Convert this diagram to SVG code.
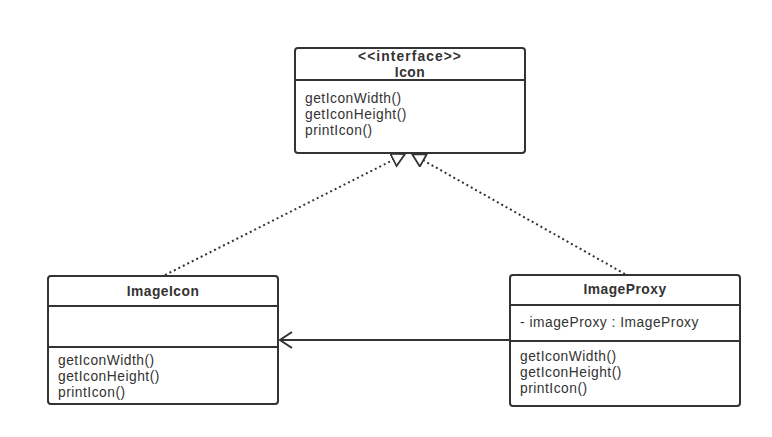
<svg xmlns="http://www.w3.org/2000/svg" width="772" height="437" viewBox="0 0 772 437">
<style>
.box{fill:#fff;stroke:#333;stroke-width:2}
.div{stroke:#333;stroke-width:2}
.t{font-family:"Liberation Sans",Arial,sans-serif;font-size:13.8px;letter-spacing:0.5px;fill:#333}
.b{font-weight:bold;text-anchor:middle}
.dot{stroke:#333;stroke-width:2;stroke-dasharray:2 3;fill:none}
.solid{stroke:#333;stroke-width:2;fill:none}
</style>
<defs>
<marker id="tri" markerWidth="18" markerHeight="18" refX="14" refY="8" orient="auto" markerUnits="userSpaceOnUse">
<path d="M1,1 L14,8 L1,15 Z" fill="#fff" stroke="#333" stroke-width="1.8"/>
</marker>
<marker id="open" markerWidth="16" markerHeight="20" refX="13" refY="9" orient="auto" markerUnits="userSpaceOnUse">
<path d="M1,1 L13,9 L1,17" fill="none" stroke="#333" stroke-width="2"/>
</marker>
</defs>
<g id="connectors">
<path class="dot" d="M165,275 L405,154" marker-end="url(#tri)"/>
<path class="dot" d="M625,274 L412,154" marker-end="url(#tri)"/>
<path class="solid" d="M510,340 L280,340" marker-end="url(#open)"/>
</g>
<g id="Icon">
<rect class="box" x="295" y="48" width="230" height="105" rx="3"/>
<line class="div" x1="295" y1="80" x2="525" y2="80"/>
<text class="t b" x="410" y="61" style="letter-spacing:1.1px">&lt;&lt;interface&gt;&gt;</text>
<text class="t b" x="410" y="77">Icon</text>
<text class="t" x="305" y="103">getIconWidth()</text>
<text class="t" x="305" y="119">getIconHeight()</text>
<text class="t" x="305" y="135">printIcon()</text>
</g>
<g id="ImageIcon">
<rect class="box" x="48" y="276" width="230" height="128" rx="3"/>
<line class="div" x1="48" y1="306" x2="278" y2="306"/>
<line class="div" x1="48" y1="347" x2="278" y2="347"/>
<text class="t b" x="163" y="296">ImageIcon</text>
<text class="t" x="58" y="365">getIconWidth()</text>
<text class="t" x="58" y="381">getIconHeight()</text>
<text class="t" x="58" y="397">printIcon()</text>
</g>
<g id="ImageProxy">
<rect class="box" x="510" y="275" width="230" height="131" rx="3"/>
<line class="div" x1="510" y1="305" x2="740" y2="305"/>
<line class="div" x1="510" y1="341" x2="740" y2="341"/>
<text class="t b" x="625" y="294">ImageProxy</text>
<text class="t" x="520" y="327">- imageProxy : ImageProxy</text>
<text class="t" x="520" y="361">getIconWidth()</text>
<text class="t" x="520" y="377">getIconHeight()</text>
<text class="t" x="520" y="393">printIcon()</text>
</g>
</svg>
